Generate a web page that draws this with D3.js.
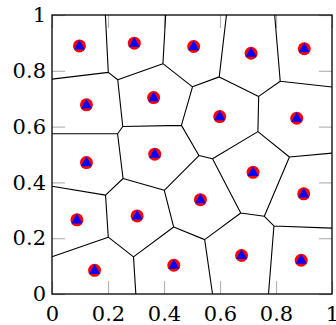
<!DOCTYPE html>
<html>
<head>
<meta charset="utf-8">
<script src="https://cdn.jsdelivr.net/npm/d3@7"></script>
<style>
  body { margin: 0; background: #fff; }
  svg { display: block; }
</style>
</head>
<body>
<div id="chart"></div>
<script>
// site coordinates
let xs = [0.098, 0.294, 0.506, 0.711, 0.901,
          0.123, 0.363, 0.599, 0.874,
          0.123, 0.367, 0.718, 0.899,
          0.089, 0.304, 0.530,
          0.152, 0.435, 0.677, 0.890];
let ys = [0.889, 0.899, 0.887, 0.863, 0.879,
          0.678, 0.704, 0.636, 0.630,
          0.471, 0.501, 0.436, 0.359,
          0.266, 0.280, 0.338,
          0.085, 0.103, 0.138, 0.121];
let tickVals = [0, 0.2, 0.4, 0.6, 0.8, 1];

var margin = {top: 15, right: 4, bottom: 31, left: 52}
  , width = 336 - margin.left - margin.right
  , height = 325 - margin.top - margin.bottom;

var xScale = d3.scaleLinear().domain([0, 1]).range([0, width]);
var yScale = d3.scaleLinear().domain([0, 1]).range([height, 0]);

var svg = d3.select("#chart").append("svg")
  .attr("width", 336)
  .attr("height", 325)
  .append("g")
  .attr("transform", "translate(" + margin.left + "," + margin.top + ")");

var fmt = d => d3.format("")(d);

// gray inner ticks on all four sides, serif labels
function styleAxis(g) {
  g.attr("font-family", "DejaVu Serif").attr("font-size", 21);
  g.select(".domain").remove();
  g.selectAll(".tick line").attr("stroke", "#b4b4b4").attr("stroke-width", 1.2);
  g.selectAll(".tick text").attr("fill", "#000");
}

svg.append("g")
  .attr("transform", "translate(0," + height + ")")
  .call(d3.axisBottom(xScale).tickValues(tickVals).tickFormat(fmt).tickSizeInner(-13).tickSizeOuter(0).tickPadding(12))
  .call(styleAxis);

svg.append("g")
  .call(d3.axisLeft(yScale).tickValues(tickVals).tickFormat(fmt).tickSizeInner(-13).tickSizeOuter(0).tickPadding(6))
  .call(styleAxis);

svg.append("g")
  .call(d3.axisTop(xScale).tickValues(tickVals).tickFormat("").tickSizeInner(-13).tickSizeOuter(0))
  .call(styleAxis);

svg.append("g")
  .attr("transform", "translate(" + width + ",0)")
  .call(d3.axisRight(yScale).tickValues(tickVals).tickFormat("").tickSizeInner(-13).tickSizeOuter(0))
  .call(styleAxis);

// voronoi cells clipped to the unit square
var pts = xs.map((x, i) => [xScale(x), yScale(ys[i])]);
var voronoi = d3.Delaunay.from(pts).voronoi([0, 0, width, height]);

svg.append("path")
  .attr("d", voronoi.render())
  .attr("fill", "none")
  .attr("stroke", "#000")
  .attr("stroke-width", 1.1);

svg.append("rect")
  .attr("width", width)
  .attr("height", height)
  .attr("fill", "none")
  .attr("stroke", "#000")
  .attr("stroke-width", 1.3);

svg.selectAll(".dot")
  .data(pts)
  .enter().append("circle")
  .attr("class", "dot")
  .attr("cx", d => d[0])
  .attr("cy", d => d[1])
  .attr("r", 6.5)
  .attr("fill", "#ff0000");

svg.selectAll(".tri")
  .data(pts)
  .enter().append("path")
  .attr("class", "tri")
  .attr("transform", d => "translate(" + d[0] + "," + d[1] + ")")
  .attr("d", "M0,-6.2L5.5,3.6L-5.5,3.6Z")
  .attr("fill", "#0000ff");
</script>
</body>
</html>
